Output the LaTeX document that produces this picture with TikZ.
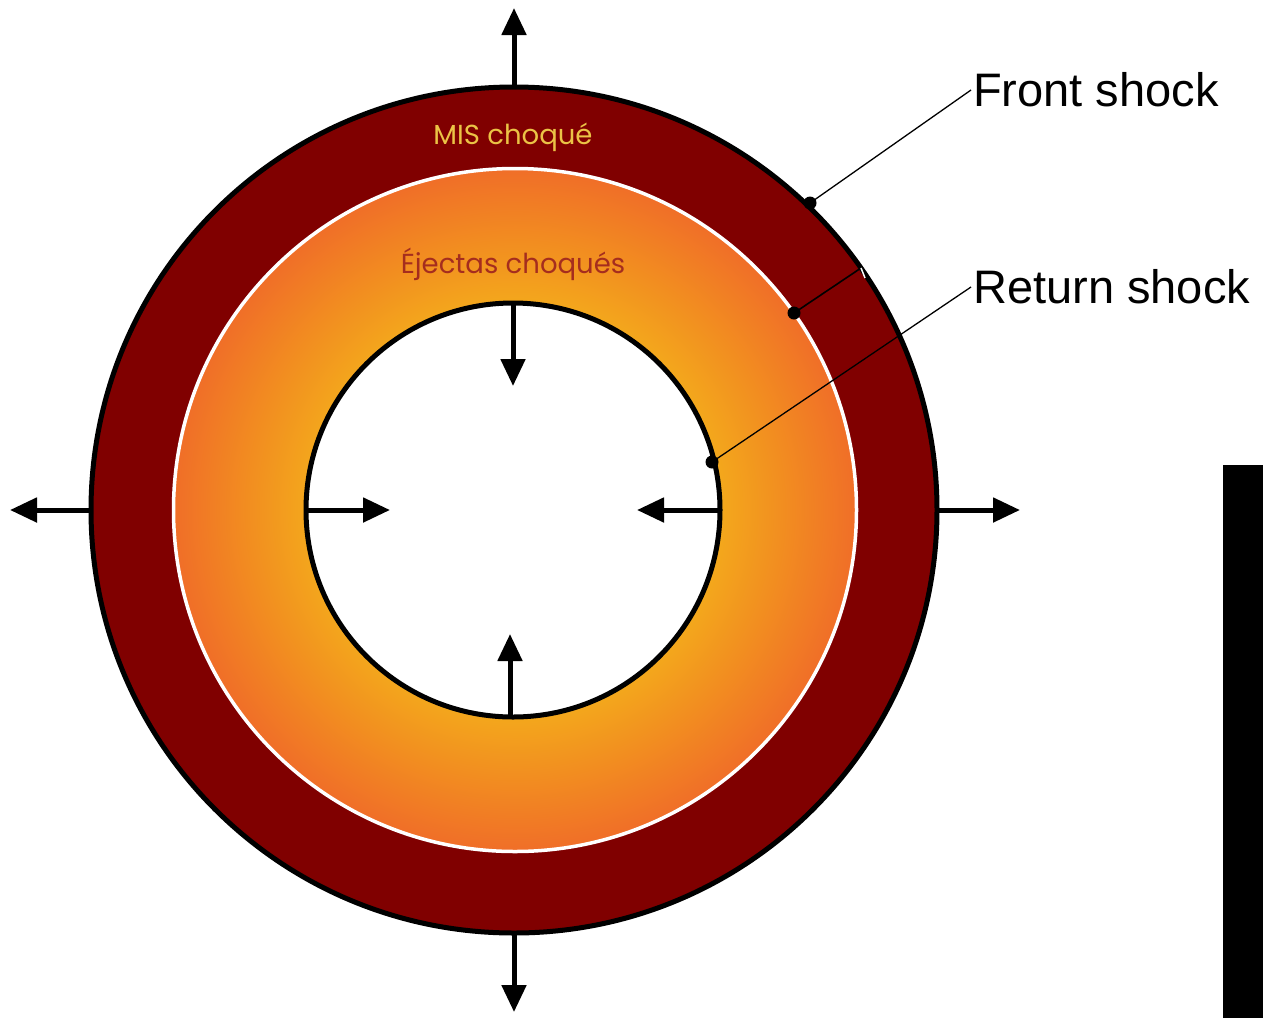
\documentclass[tikz,border=0pt]{standalone}
\usepackage{fontspec}
\setmainfont{Liberation Sans}
\newfontfamily\gothic{Poppins}
\usetikzlibrary{arrows.meta}
\definecolor{ringred}{RGB}{128,0,0}
\definecolor{ejyel}{RGB}{243,168,28}
\definecolor{ejmid}{RGB}{242,142,32}
\definecolor{ejred}{RGB}{240,110,40}
\definecolor{mistext}{RGB}{235,195,70}
\definecolor{ejtext}{RGB}{165,45,30}
\pgfdeclareradialshading{ejecta}{\pgfpointorigin}{color(0bp)=(ejyel); color(15bp)=(ejyel); color(19.5bp)=(ejmid); color(25bp)=(ejred); color(50bp)=(ejred)}
\tikzset{
  arr/.style={line width=5pt, -{Triangle[length=27pt,width=24pt]}},
  leader/.style={line width=1.3pt, black},
  lbl/.style={anchor=west, inner sep=2pt, font=\fontsize{47}{50}\selectfont},
  ringlbl/.style={inner sep=0pt, font=\gothic\fontsize{27.5}{30}\selectfont},
}
\begin{document}
\begin{tikzpicture}[x=1pt,y=-1pt]
\useasboundingbox (0,0) rectangle (1263,1018);
\fill[white] (0,0) rectangle (1263,1018);
% black bar
\fill[black] (1223,465) rectangle (1263,1018);
% circles
\node[circle, inner sep=0pt, outer sep=0pt, minimum size=846pt, fill=ringred, draw=black, line width=5pt] (outer) at (514,510) {};
\node[circle, inner sep=0pt, outer sep=0pt, minimum size=683pt, shading=ejecta, draw=white, line width=3.5pt] (contact) at (515,510) {};
\node[circle, inner sep=0pt, outer sep=0pt, minimum size=414pt, fill=white, draw=black, line width=5pt] (inner) at (513,510) {};
% arrow ends
\coordinate (oN) at (514,8);
\coordinate (oS) at (514,1012);
\coordinate (oW) at (10,510);
\coordinate (oE) at (1020,510);
\coordinate (iN) at (513,386);
\coordinate (iS) at (510,634);
\coordinate (iW) at (390,510);
\coordinate (iE) at (637,510);
\coordinate (iNs) at (513,303);
\coordinate (iSs) at (510,717);
\draw[arr] (outer.north) -- (oN);
\draw[arr] (outer.south) -- (oS);
\draw[arr] (outer.west) -- (oW);
\draw[arr] (outer.east) -- (oE);
\draw[arr] (iNs) -- (iN);
\draw[arr] (iSs) -- (iS);
\draw[arr] (inner.west) -- (iW);
\draw[arr] (inner.east) -- (iE);
% ring labels
\node[ringlbl, text=mistext] (mis) at (513,137) {MIS choqué};
\node[ringlbl, text=ejtext] (ej) at (513,264) {Éjectas choqués};
% shock labels
\node[lbl] (fs) at (971,90) {Front shock};
\node[lbl] (rs) at (971,287) {Return shock};
\coordinate (fsdot) at (810,203);
\coordinate (rsdot) at (712,462);
\coordinate (cddot) at (794,313);
\coordinate (cdend) at (861,268);
\coordinate (cdtick) at (865,278);
\draw[leader] (fsdot) -- (fs.west);
\draw[leader] (rsdot) -- (rs.west);
\draw[leader, line width=1.6pt] (cddot) -- (cdend);
\draw[white, line width=1.5pt] (cdend) -- (cdtick);
\fill (fsdot) circle[radius=6.5];
\fill (rsdot) circle[radius=6.5];
\fill (cddot) circle[radius=6.5];
\end{tikzpicture}
\end{document}
